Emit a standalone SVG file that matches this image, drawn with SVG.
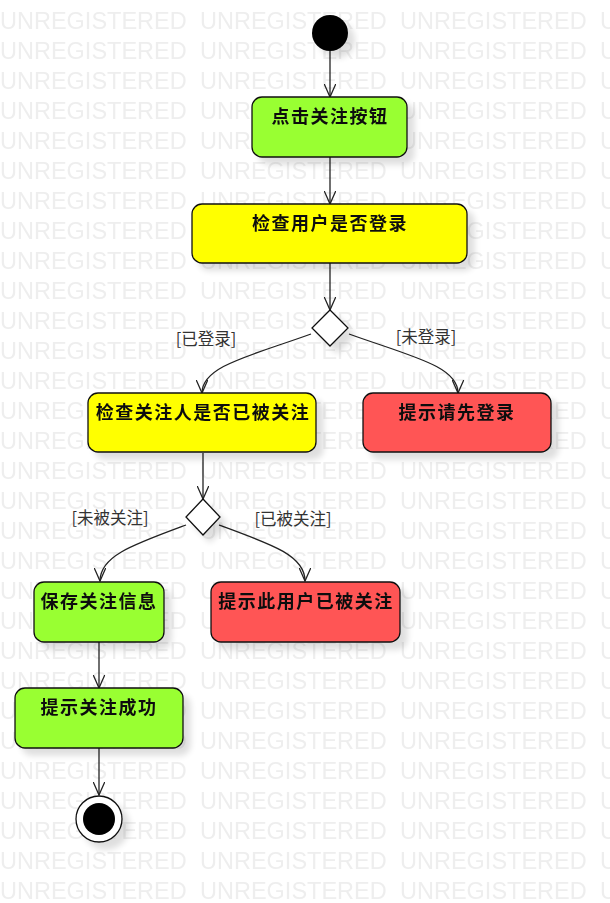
<svg xmlns="http://www.w3.org/2000/svg" width="610" height="903" viewBox="0 0 610 903">
<style>
.wm{font-family:"Liberation Sans",Arial,sans-serif;font-size:23.5px;fill:#eeeeee}
.box{stroke:#111;stroke-width:1.3}
.g{fill:#99ff33}
.y{fill:#ffff00}
.r{fill:#ff5555}
.t{font-family:"Noto Sans CJK SC","Noto Sans",sans-serif;font-weight:bold;font-size:18px;letter-spacing:1.5px;fill:#111;text-anchor:middle}
.lbl{font-family:"Noto Sans CJK SC","Noto Sans",sans-serif;font-size:16.5px;fill:#333;text-anchor:middle}
.c{fill:none;stroke:#222;stroke-width:1.3}
</style>
<defs>
<pattern id="wmp" x="0" y="0" width="200" height="30" patternUnits="userSpaceOnUse">
<text class="wm" x="0" y="29">UNREGISTERED</text>
</pattern>
<filter id="sh" x="-20%" y="-20%" width="150%" height="160%">
<feGaussianBlur in="SourceAlpha" stdDeviation="3"/>
<feOffset dx="7" dy="7" result="b"/>
<feComponentTransfer><feFuncA type="linear" slope="0.13"/></feComponentTransfer>
<feMerge><feMergeNode/><feMergeNode in="SourceGraphic"/></feMerge>
</filter>
<marker id="ah" viewBox="0 0 14 12" refX="13.5" refY="6" markerWidth="14" markerHeight="12" markerUnits="userSpaceOnUse" orient="auto">
<path d="M0,0 L13.5,6 L0,12" fill="none" stroke="#222" stroke-width="1.3"/>
</marker>
</defs>
<rect width="610" height="903" fill="#ffffff"/>
<rect width="610" height="903" fill="url(#wmp)"/>

<g id="connectors">
<path class="c" d="M330,51 L330,97" marker-end="url(#ah)"/>
<path class="c" d="M330,157 L330,204" marker-end="url(#ah)"/>
<path class="c" d="M330,263 L330,310" marker-end="url(#ah)"/>
<path class="c" d="M311,334 C250,356 202,366 202,393" marker-end="url(#ah)"/>
<path class="c" d="M349,334 C410,356 458,366 458,393" marker-end="url(#ah)"/>
<text class="lbl" x="206" y="345">[已登录]</text>
<text class="lbl" x="426" y="343">[未登录]</text>
<path class="c" d="M203,453 L203,499" marker-end="url(#ah)"/>
<path class="c" d="M186,525 C132,545 100,556 100,581" marker-end="url(#ah)"/>
<path class="c" d="M219,525 C274,545 305,556 305,581" marker-end="url(#ah)"/>
<text class="lbl" x="110" y="524">[未被关注]</text>
<text class="lbl" x="293" y="525">[已被关注]</text>
<path class="c" d="M99,642 L99,688" marker-end="url(#ah)"/>
<path class="c" d="M99,748 L99,795" marker-end="url(#ah)"/>
</g>

<g id="start" filter="url(#sh)">
<circle cx="330" cy="33" r="18" fill="#000"/>
</g>
<g id="n1" filter="url(#sh)">
<rect class="box g" x="252" y="97" width="155" height="60" rx="10"/>
<text class="t" x="330" y="123">点击关注按钮</text>
</g>
<g id="n2" filter="url(#sh)">
<rect class="box y" x="192" y="204" width="275" height="59" rx="10"/>
<text class="t" x="330" y="230">检查用户是否登录</text>
</g>
<g id="d1" filter="url(#sh)">
<polygon points="330,310 348,328 330,346 312,328" fill="#fff" stroke="#111" stroke-width="1.3"/>
</g>
<g id="n3" filter="url(#sh)">
<rect class="box y" x="88" y="393" width="228" height="59" rx="10"/>
<text class="t" x="203" y="419">检查关注人是否已被关注</text>
</g>
<g id="n4" filter="url(#sh)">
<rect class="box r" x="363" y="393" width="188" height="59" rx="10"/>
<text class="t" x="457" y="419">提示请先登录</text>
</g>
<g id="d2" filter="url(#sh)">
<polygon points="203,499 220,517 203,535 186,517" fill="#fff" stroke="#111" stroke-width="1.3"/>
</g>
<g id="n5" filter="url(#sh)">
<rect class="box g" x="34" y="582" width="130" height="60" rx="10"/>
<text class="t" x="99" y="608">保存关注信息</text>
</g>
<g id="n6" filter="url(#sh)">
<rect class="box r" x="211" y="582" width="189" height="60" rx="10"/>
<text class="t" x="306" y="608">提示此用户已被关注</text>
</g>
<g id="n7" filter="url(#sh)">
<rect class="box g" x="15" y="688" width="168" height="60" rx="10"/>
<text class="t" x="99" y="714">提示关注成功</text>
</g>
<g id="end" filter="url(#sh)">
<circle cx="99" cy="819" r="23" fill="#fff" stroke="#111" stroke-width="1.3"/>
<circle cx="99" cy="819" r="16" fill="#000"/>
</g>
</svg>
